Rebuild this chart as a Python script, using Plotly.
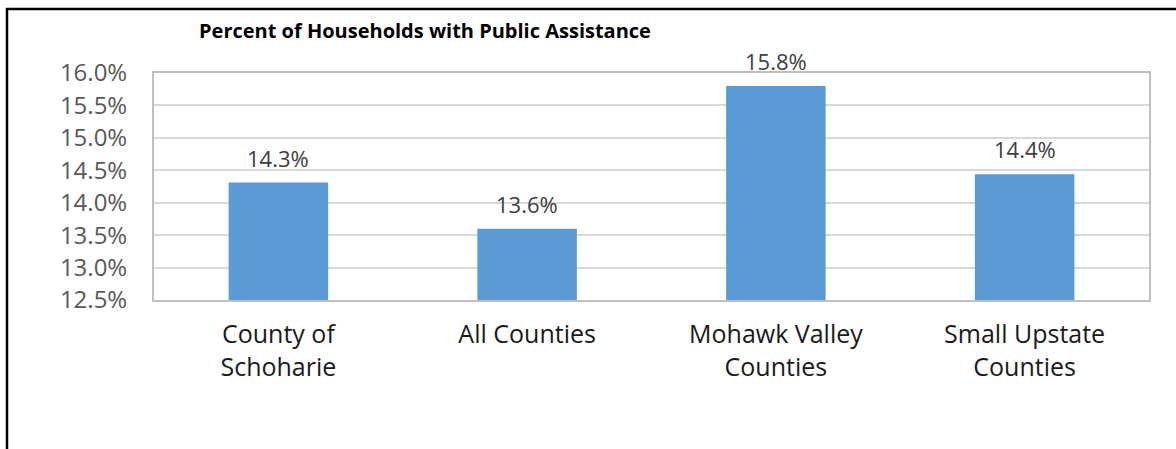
import plotly.graph_objects as go

categories = ["County of<br>Schoharie", "All Counties", "Mohawk Valley<br>Counties", "Small Upstate<br>Counties"]
values = [0.1431, 0.1360, 0.1580, 0.1444]
tick_vals = [0.125, 0.130, 0.135, 0.140, 0.145, 0.150, 0.155, 0.160]
title_text = "Percent of Households with Public Assistance"

W, H = 1176, 449
L, R, T, B = 154, 27, 73, 149
pw, ph = W - L - R, H - T - B

def px_x(x):
    return (x - L) / pw

def px_y(y):
    return (H - B - y) / ph

FONT = "Open Sans"

fig = go.Figure()
fig.add_trace(go.Bar(
    x=categories, y=values,
    marker=dict(color="#5B9BD5", line=dict(width=0)),
    width=0.4, hoverinfo="skip",
))

labels = [dict(
    x=c, y=v, xref="x", yref="y", text=f"{v * 100:.1f}%",
    showarrow=False, yanchor="bottom", yshift=8,
    font=dict(family=FONT, size=22, color="#404040"),
) for c, v in zip(categories, values)]

fig.update_layout(
    width=W, height=H,
    margin=dict(l=L, r=R, t=T, b=B, pad=0),
    paper_bgcolor="white", plot_bgcolor="white",
    showlegend=False,
    xaxis=dict(
        showline=True, linecolor="#BFBFBF", linewidth=2, mirror=True,
        showgrid=False, ticks="", ticklabelstandoff=11,
        tickfont=dict(family=FONT, size=25, color="#1a1a1a"),
    ),
    yaxis=dict(
        range=[0.125, 0.160], tickvals=tick_vals, tickformat=".1%",
        showline=True, linecolor="#BFBFBF", linewidth=2, mirror=True,
        showgrid=True, gridcolor="#D9D9D9", gridwidth=2,
        ticks="", ticklabelstandoff=20, zeroline=False,
        tickfont=dict(family=FONT, size=24, color="#595959"),
    ),
    annotations=labels + [dict(
        text="<b>" + title_text + "</b>", xref="paper", yref="paper",
        x=px_x(425), y=px_y(30), xanchor="center", yanchor="middle",
        showarrow=False, font=dict(family=FONT, size=20, color="#000000"),
    )],
    shapes=[
        dict(type="line", xref="paper", yref="paper", x0=px_x(7), x1=px_x(7),
             y0=px_y(8), y1=px_y(460), line=dict(color="black", width=2.5)),
        dict(type="line", xref="paper", yref="paper", x0=px_x(6), x1=px_x(1190),
             y0=px_y(9), y1=px_y(9), line=dict(color="black", width=2.5)),
    ],
)

fig.write_html("out.html", config={"displayModeBar": False},
               post_script="document.body.style.margin='0';document.body.style.padding='0';")
